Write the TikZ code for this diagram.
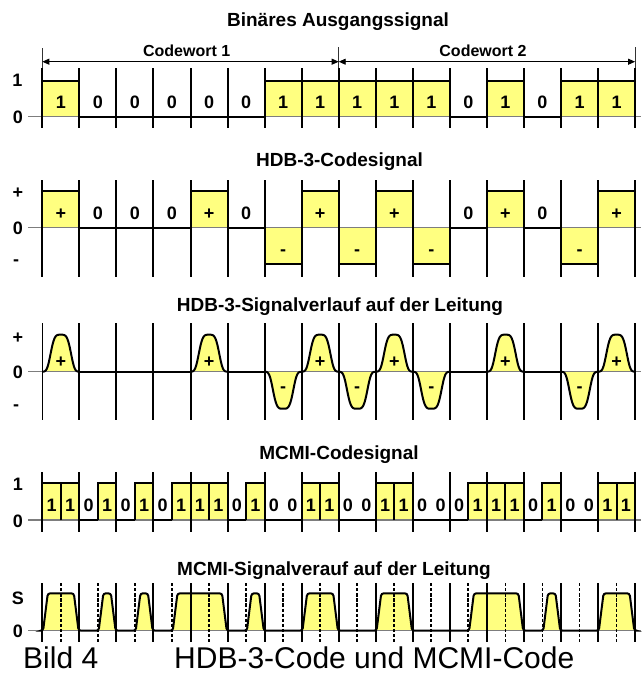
\documentclass[tikz,border=0pt]{standalone}
\usepackage{fontspec}
\setmainfont{Liberation Sans}
\usetikzlibrary{arrows.meta}
\definecolor{sigyellow}{RGB}{255,255,128}
\definecolor{axisgray}{RGB}{125,125,125}
\newcommand{\mybw}{37.05}
\newcommand{\myxo}{42.3}
\newcommand{\myhw}{18.525}
\begin{document}
\begin{tikzpicture}[x=1pt,y=-1pt,
  bitline/.style={line width=2pt,black},
  thinbitline/.style={line width=1pt,black},
  halfline/.style={line width=1.8pt,black,dash pattern=on 3.3pt off 1.8pt},
  sigline/.style={line width=2pt,black},
  axisline/.style={line width=1.2pt,axisgray},
  ttl/.style={font=\bfseries\fontsize{19}{19}\selectfont,anchor=base,inner sep=0pt},
  lbl/.style={font=\bfseries\fontsize{18}{18}\selectfont,text height=12.9pt,text depth=0pt,inner sep=0pt},
  cwlbl/.style={font=\bfseries\fontsize{16}{16}\selectfont,anchor=base,inner sep=0pt},
  dimline/.style={line width=0.9pt,black!80},
  dimarrow/.style={line width=0.9pt,black,{Triangle[length=7pt,width=6pt]}-{Triangle[length=7pt,width=6pt]}},
  capt/.style={font=\fontsize{30}{30}\selectfont,anchor=base west,inner sep=0pt}
]
\useasboundingbox (0,0) rectangle (641,675);

% ---------- titles ----------
\node[ttl] (t1) at (338,26) {Binäres Ausgangssignal};
\node[ttl] (t2) at (339.5,166.7) {HDB-3-Codesignal};
\node[ttl] (t3) at (340,311.7) {HDB-3-Signalverlauf auf der Leitung};
\node[ttl] (t4) at (339,459.3) {MCMI-Codesignal};
\node[ttl] (t5) at (334,575) {MCMI-Signalverauf auf der Leitung};

% ---------- code word dimension arrows ----------
\coordinate (cw0) at (42.3,61.7);
\coordinate (cw1) at (338.7,61.7);
\coordinate (cw2) at (635.1,61.7);
\coordinate (cw0t) at (42.3,48);
\coordinate (cw1t) at (338.7,47);
\coordinate (cw2t) at (635.1,47);
\coordinate (cw0b) at (42.3,69);
\coordinate (cw1b) at (338.7,69);
\coordinate (cw2b) at (635.1,69);
\draw[dimline] (cw0t) -- (cw0b);
\draw[dimline] (cw1t) -- (cw1b);
\draw[dimline] (cw2t) -- (cw2b);
\draw[dimarrow] (cw0) -- (cw1);
\draw[dimarrow] (cw1) -- (cw2);
\node[cwlbl] (cw1l) at (186.7,56.7) {Codewort 1};
\node[cwlbl] (cw2l) at (483,56.7) {Codewort 2};

% ---------- row 1: binary ----------
\node[lbl] (r1a) at (17.5,79.7) {1};
\node[lbl] (r1b) at (18,116.7) {0};
\foreach \v [count=\i from 0] in {1,0,0,0,0,0,1,1,1,1,1,0,1,0,1,1} {
  \pgfmathsetmacro\xa{\myxo+\mybw*\i}
  \pgfmathsetmacro\xb{\xa+\mybw}
  \ifnum\v=1 \fill[sigyellow] (\xa,80.7) rectangle (\xb,116.7); \fi
}
\draw[axisline] (28,116.7) -- (641,116.7);
\foreach \v [count=\i from 0] in {1,0,0,0,0,0,1,1,1,1,1,0,1,0,1,1} {
  \pgfmathsetmacro\xa{\myxo+\mybw*\i}
  \pgfmathsetmacro\xb{\xa+\mybw}
  \pgfmathsetmacro\xm{\xa+\mybw/2}
  \pgfmathsetmacro\yy{\v==1 ? 80.7 : 116.7}
  \draw[sigline] (\xa,\yy) -- (\xb,\yy);
  \node[lbl] (b\i) at (\xm,101.7) {\v};
}
\foreach \i in {0,...,16} {
  \pgfmathsetmacro\xa{\myxo+\mybw*\i}
  \draw[bitline] (\xa,68) -- (\xa,128);
}

% ---------- row 2: HDB-3 code ----------
\node[lbl] (r2a) at (18,192) {+};
\node[lbl] (r2b) at (18,228) {0};
\node[lbl] (r2c) at (16,258.9) {-};
\foreach \v [count=\i from 0] in {1,0,0,0,1,0,-1,1,-1,1,-1,0,1,0,-1,1} {
  \pgfmathsetmacro\xa{\myxo+\mybw*\i}
  \pgfmathsetmacro\xb{\xa+\mybw}
  \ifnum\v=1 \fill[sigyellow] (\xa,191.1) rectangle (\xb,227.7); \fi
  \ifnum\v=-1 \fill[sigyellow] (\xa,227.7) rectangle (\xb,264.3); \fi
}
\draw[axisline] (28,227.7) -- (641,227.7);
\foreach \v [count=\i from 0] in {1,0,0,0,1,0,-1,1,-1,1,-1,0,1,0,-1,1} {
  \pgfmathsetmacro\xa{\myxo+\mybw*\i}
  \pgfmathsetmacro\xb{\xa+\mybw}
  \pgfmathsetmacro\xm{\xa+\mybw/2}
  \pgfmathsetmacro\yy{227.7-36.6*(\v)}
  \draw[sigline] (\xa,\yy) -- (\xb,\yy);
  \ifnum\v>0 \node[lbl] (h\i) at (\xm,213) {+};\fi
  \ifnum\v=0 \node[lbl] (h\i) at (\xm,213.3) {0};\fi
  \ifnum\v<0 \node[lbl] (h\i) at (\xm,248.6) {-};\fi
}
\foreach \i in {0,...,16} {
  \pgfmathsetmacro\xa{\myxo+\mybw*\i}
  \draw[bitline] (\xa,180) -- (\xa,277);
}

% ---------- row 3: HDB-3 line signal ----------
\node[lbl] (r3a) at (18,337) {+};
\node[lbl] (r3b) at (18,371.7) {0};
\node[lbl] (r3c) at (16,403.6) {-};
\foreach \v [count=\i from 0] in {1,0,0,0,1,0,-1,1,-1,1,-1,0,1,0,-1,1} {
  \pgfmathsetmacro\xa{\myxo+\mybw*\i}
  \ifnum\v=0 \else
    \fill[sigyellow] plot[domain=0:1,samples=41] ({\xa+\mybw*\x},{371.7-37*(\v)*exp(-((\x-0.5)*(\x-0.5)/0.09)*((\x-0.5)*(\x-0.5)/0.09))}) -- cycle;
  \fi
}
\draw[axisline] (28,371.7) -- (641,371.7);
\foreach \v [count=\i from 0] in {1,0,0,0,1,0,-1,1,-1,1,-1,0,1,0,-1,1} {
  \pgfmathsetmacro\xa{\myxo+\mybw*\i}
  \pgfmathsetmacro\xb{\xa+\mybw}
  \pgfmathsetmacro\xm{\xa+\mybw/2}
  \ifnum\v=0
    \draw[sigline] (\xa,371.7) -- (\xb,371.7);
  \else
    \draw[sigline,line join=round] plot[domain=0:1,samples=41] ({\xa+\mybw*\x},{371.7-37*(\v)*exp(-((\x-0.5)*(\x-0.5)/0.09)*((\x-0.5)*(\x-0.5)/0.09))});
  \fi
  \ifnum\v>0 \node[lbl] (s\i) at (\xm,361) {+};\fi
  \ifnum\v<0 \node[lbl] (s\i) at (\xm,385.6) {-};\fi
}
\draw[thinbitline] (\myxo,323.3) -- (\myxo,420);
\foreach \i in {1,...,16} {
  \pgfmathsetmacro\xa{\myxo+\mybw*\i}
  \draw[bitline] (\xa,323.3) -- (\xa,420);
}

% ---------- row 4: MCMI code ----------
\node[lbl] (r4a) at (18,484.5) {1};
\node[lbl] (r4b) at (18,521) {0};
\foreach \v [count=\h from 0] in {1,1,0,1,0,1,0,1,1,1,0,1,0,0,1,1,0,0,1,1,0,0,0,1,1,1,0,1,0,0,1,1} {
  \pgfmathsetmacro\xa{\myxo+\myhw*\h}
  \pgfmathsetmacro\xb{\xa+\myhw}
  \ifnum\v=1 \fill[sigyellow] (\xa,483.3) rectangle (\xb,520); \fi
}
\draw[axisline] (28,520) -- (641,520);
\foreach \v [count=\h from 0] in {1,1,0,1,0,1,0,1,1,1,0,1,0,0,1,1,0,0,1,1,0,0,0,1,1,1,0,1,0,0,1,1} {
  \pgfmathsetmacro\xa{\myxo+\myhw*\h}
  \pgfmathsetmacro\xb{\xa+\myhw}
  \pgfmathsetmacro\xm{\xa+\myhw/2}
  \ifnum\v=1
    \draw[sigline] (\xa,520) -- (\xa,483.3) -- (\xb,483.3) -- (\xb,520);
  \else
    \draw[sigline] (\xa,520) -- (\xb,520);
  \fi
  \node[lbl] (m\h) at (\xm,505) {\v};
}
\foreach \i in {0,...,16} {
  \pgfmathsetmacro\xa{\myxo+\mybw*\i}
  \draw[bitline] (\xa,472) -- (\xa,532);
}

% ---------- row 5: MCMI line signal ----------
\node[lbl] (r5a) at (18,598) {S};
\node[lbl] (r5b) at (18,631.5) {0};
\foreach \a/\b in {0/2,3/4,5/6,7/10,11/12,14/16,18/20,23/26,27/28,30/32} {
  \pgfmathsetmacro\xa{\myxo+\myhw*\a}
  \pgfmathsetmacro\xb{\myxo+\myhw*\b}
  \fill[sigyellow,rounded corners=2.5pt] (\xa+0.8,630.7) -- (\xa+5.5,593.3) -- (\xb-5.5,593.3) -- (\xb-0.8,630.7) -- cycle;
}
\draw[axisline] (28,630.7) -- (641,630.7);
\draw[sigline,rounded corners=2.5pt] (\myxo,630.7)
  \foreach \a/\b in {0/2,3/4,5/6,7/10,11/12,14/16,18/20,23/26,27/28,30/32} {
    -- ({\myxo+\myhw*\a+0.8},630.7) -- ({\myxo+\myhw*\a+5.5},593.3)
    -- ({\myxo+\myhw*\b-5.5},593.3) -- ({\myxo+\myhw*\b-0.8},630.7)
  } -- (635.1,630.7);
\foreach \i in {0,...,16} {
  \pgfmathsetmacro\xa{\myxo+\mybw*\i}
  \draw[bitline] (\xa,583) -- (\xa,642);
}
\foreach \i in {0,...,15} {
  \pgfmathsetmacro\xa{\myxo+\mybw*\i+\myhw}
  \draw[halfline] (\xa,583) -- (\xa,642);
}

% ---------- caption ----------
\node[capt] (cap1) at (23,668) {Bild 4};
\node[capt] (cap2) at (174,668) {HDB-3-Code und MCMI-Code};
\end{tikzpicture}
\end{document}
